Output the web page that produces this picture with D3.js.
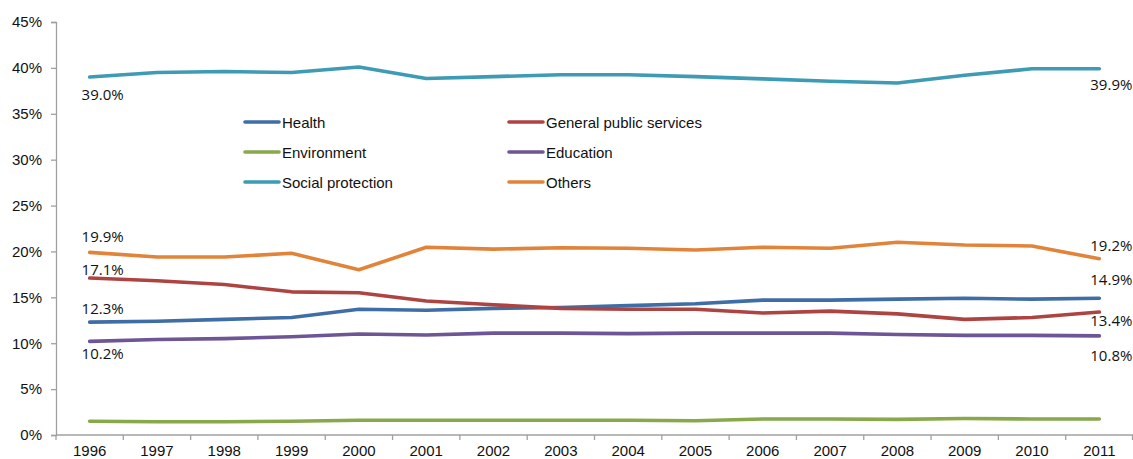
<!DOCTYPE html>
<html>
<head>
<meta charset="utf-8">
<script src="https://cdn.jsdelivr.net/npm/d3@7"></script>
<style>
  html, body { margin: 0; padding: 0; background: #fff; }
  svg { display: block; }
</style>
</head>
<body>
<svg id="chart" width="1133" height="459"></svg>
<script>
// Years on the category axis
const years = ["1996","1997","1998","1999","2000","2001","2002","2003","2004","2005","2006","2007","2008","2009","2010","2011"];

// Share of total expenditure by function (%)
const health = [12.3, 12.4, 12.6, 12.8, 13.7, 13.6, 13.8, 13.9, 14.1, 14.3, 14.7, 14.7, 14.8, 14.9, 14.8, 14.9];
const generalPublicServices = [17.1, 16.8, 16.4, 15.6, 15.5, 14.6, 14.2, 13.8, 13.7, 13.7, 13.3, 13.5, 13.2, 12.6, 12.8, 13.4];
const environment = [1.5, 1.45, 1.45, 1.5, 1.6, 1.6, 1.6, 1.6, 1.6, 1.55, 1.75, 1.75, 1.7, 1.8, 1.75, 1.75];
const education = [10.2, 10.4, 10.5, 10.7, 11.0, 10.9, 11.1, 11.1, 11.05, 11.1, 11.1, 11.1, 10.95, 10.85, 10.85, 10.8];
const socialProtection = [39.0, 39.5, 39.6, 39.5, 40.1, 38.85, 39.05, 39.25, 39.25, 39.05, 38.8, 38.55, 38.35, 39.2, 39.9, 39.9];
const others = [19.9, 19.4, 19.4, 19.8, 18.0, 20.45, 20.25, 20.4, 20.35, 20.15, 20.45, 20.35, 21.0, 20.7, 20.6, 19.2];

// Y axis tick values (%)
const yTicks = [0, 5, 10, 15, 20, 25, 30, 35, 40, 45];

// Series definitions, in legend order (row by row, two columns)
const series = [
  { name: "Health", values: health, color: "#3F6EA7" },
  { name: "General public services", values: generalPublicServices, color: "#AE4441" },
  { name: "Environment", values: environment, color: "#88A84A" },
  { name: "Education", values: education, color: "#6E5595" },
  { name: "Social protection", values: socialProtection, color: "#3E9BB4" },
  { name: "Others", values: others, color: "#E1843A" }
];

// Vertical offsets (px) of the end-point value labels: [first, last]
const labelOffsets = {
  "Health": [-14, -19],
  "General public services": [-9, 8],
  "Environment": null,
  "Education": [12, 19],
  "Social protection": [17, 15],
  "Others": [-16, -14]
};

const svg = d3.select("#chart");
const plotLeft = 56, plotRight = 1133, plotTop = 22, plotBottom = 435;

const x = d3.scaleBand().domain(years).range([plotLeft, plotRight]);
const y = d3.scaleLinear().domain([0, 45]).range([plotBottom, plotTop]);
const cx = d => x(d) + x.bandwidth() / 2;

const axisColor = "#A0A0A0";
const tickFont = "'Liberation Sans', Arial, sans-serif";

// Y axis
const yAxis = d3.axisLeft(y).tickValues(yTicks).tickSize(5).tickPadding(9)
  .tickFormat(d => d + "%");
const gy = svg.append("g").attr("transform", `translate(${plotLeft},0)`).call(yAxis);
gy.select(".domain").attr("stroke", axisColor).attr("stroke-width", 1.3);
gy.selectAll(".tick line").attr("stroke", axisColor).attr("stroke-width", 1.3);
gy.selectAll(".tick text").attr("fill", "#111").style("font", `15px ${tickFont}`);

// X axis: labels centred on each category, tick marks between categories
const xAxis = d3.axisBottom(x).tickSize(0).tickPadding(10);
const gx = svg.append("g").attr("transform", `translate(0,${plotBottom})`).call(xAxis);
gx.select(".domain").remove();
gx.selectAll(".tick text").attr("fill", "#111").style("font", `15px ${tickFont}`);
gx.append("line").attr("x1", plotLeft).attr("x2", plotRight).attr("y1", 0).attr("y2", 0)
  .attr("stroke", axisColor).attr("stroke-width", 1.3);
gx.selectAll(".cat-tick").data(years.concat([null])).enter().append("line")
  .attr("class", "cat-tick")
  .attr("x1", d => d === null ? plotRight - 0.5 : x(d))
  .attr("x2", d => d === null ? plotRight - 0.5 : x(d))
  .attr("y1", 0).attr("y2", 5)
  .attr("stroke", axisColor).attr("stroke-width", 1.3);

// Lines
const line = d3.line().x((v, i) => cx(years[i])).y(v => y(v));
svg.append("g").selectAll("path").data(series).enter().append("path")
  .attr("d", s => line(s.values))
  .attr("fill", "none")
  .attr("stroke", s => s.color)
  .attr("stroke-width", 3.6)
  .attr("stroke-linejoin", "round")
  .attr("stroke-linecap", "round");

// End-point value labels
const fmt = v => d3.format(".1f")(v) + "%";
const labelFont = "'Open Sans', 'Noto Sans', sans-serif";
const lg = svg.append("g");
series.forEach(s => {
  const off = labelOffsets[s.name];
  if (!off) return;
  const last = s.values.length - 1;
  [[0, off[0], 13], [last, off[1], 12]].forEach(([i, dy, dx]) => {
    lg.append("text")
      .attr("x", cx(years[i]) + dx)
      .attr("y", y(s.values[i]) + dy)
      .attr("text-anchor", "middle")
      .attr("dominant-baseline", "central")
      .attr("fill", "#111")
      .style("font", `15px ${labelFont}`)
      .text(fmt(s.values[i]));
  });
});

// Legend: two columns, three rows
const legendCols = [245, 509];
const legendRows = [122, 152, 182];
const legend = svg.append("g");
series.forEach((s, i) => {
  const lx = legendCols[i % 2], ly = legendRows[Math.floor(i / 2)];
  legend.append("line")
    .attr("x1", lx).attr("x2", lx + 34).attr("y1", ly).attr("y2", ly)
    .attr("stroke", s.color).attr("stroke-width", 3.6).attr("stroke-linecap", "round");
  legend.append("text")
    .attr("x", lx + 37).attr("y", ly)
    .attr("dominant-baseline", "central")
    .attr("fill", "#111")
    .style("font", `15px ${tickFont}`)
    .text(s.name);
});
</script>
</body>
</html>
